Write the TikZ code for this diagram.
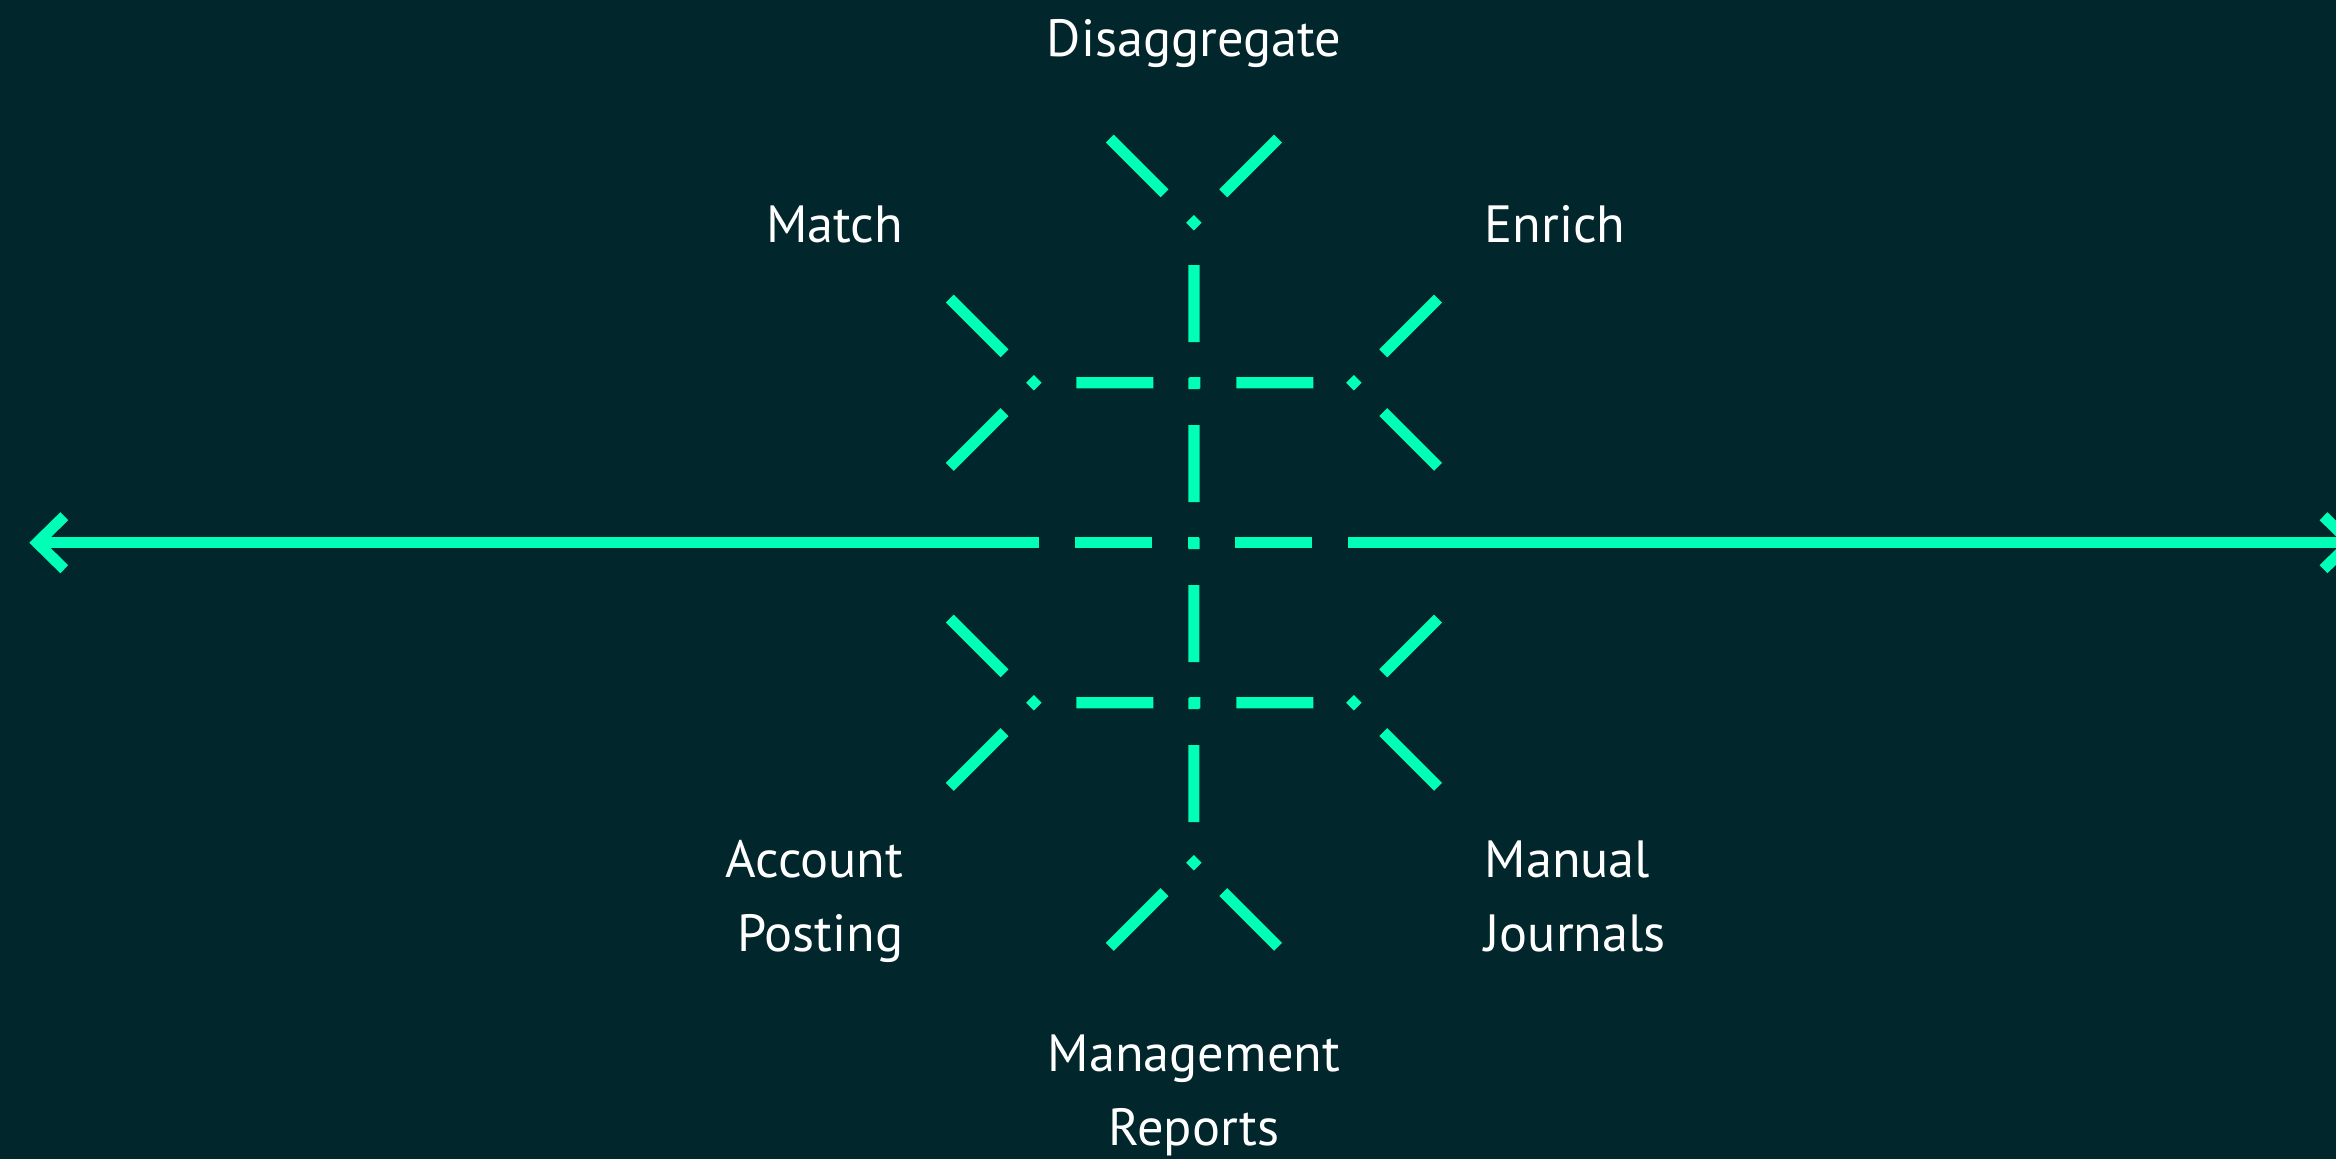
\documentclass[tikz,border=0pt]{standalone}
\usepackage{fontspec}
\setmainfont{PT Sans}
\usetikzlibrary{arrows.meta}
\definecolor{bgteal}{HTML}{01262B}
\definecolor{mint}{HTML}{00FFB7}
\begin{document}
\begin{tikzpicture}[
    ray/.style={mint, line width=0.112cm, line cap=butt},
    dashline/.style={ray, dash pattern=on 0.77cm off 0.36cm on 0.11cm off 0.36cm, dash phase=#1},
    dashline/.default=1.263cm,
    dia/.style={fill=mint, rectangle, rotate=45, minimum size=0.11cm, inner sep=0pt},
    lbl/.style={text=white, inner sep=0pt, font=\fontsize{14.9}{21}\selectfont},
    tip/.style={arrows={-Straight Barb[length=2.7mm, width=5.3mm, sharp]}}
  ]

   \fill[bgteal] (-11.939,-6.163) rectangle (11.421,5.427);
   \clip (-11.939,-6.163) rectangle (11.421,5.427);

   \node[dia] at (0, 3.2)     (dt) {};
   \node[dia] at (-1.6, 1.6)  (d1) {};
   \node[dia] at (1.6, 1.6)   (d2) {};
   \node[dia] at (-1.6, -1.6) (d3) {};
   \node[dia] at (1.6, -1.6)  (d4) {};
   \node[dia] at (0, -3.2)    (db) {};

   \coordinate (lt) at (-11.646, 0);
   \coordinate (rt) at (11.646, 0);
   \coordinate (ml) at (-1.545, 0);
   \coordinate (mr) at (1.545, 0);

   % main axis
   \draw [ray, tip] (ml) to (lt);
   \draw [ray, tip] (mr) to (rt);
   \draw [dashline=1.24cm] (ml) to (mr);

   % dashed cross
   \draw [dashline] (dt) to (db);
   \draw [dashline] (d1) to (d2);
   \draw [dashline] (d3) to (d4);

   \foreach \d/\a in {dt/45, dt/135, d1/135, d1/225, d2/45, d2/-45,
                      d3/135, d3/225, d4/45, d4/-45, db/225, db/-45}
      \draw [ray] (\d) ++(\a:0.415) -- ++(\a:0.775);

%Step labels
   \node[lbl, anchor=base] at (0, 4.86)  (dis) {Disaggregate};
   \node[lbl, anchor=base east] at (-2.9, 3.0)  (mat) {Match};
   \node[lbl, anchor=base west] at (2.9, 3.0)  (enr) {Enrich};
   \node[lbl, anchor=base east, align=right] at (-2.9, -4.09)  (acc) {Account\\Posting};
   \node[lbl, anchor=base west, align=left] at (2.9, -4.09)  (man) {Manual\\Journals};
   \node[lbl, anchor=base, align=center] at (0, -6.023)  (mgt) {Management\\Reports};

\end{tikzpicture}
\end{document}
